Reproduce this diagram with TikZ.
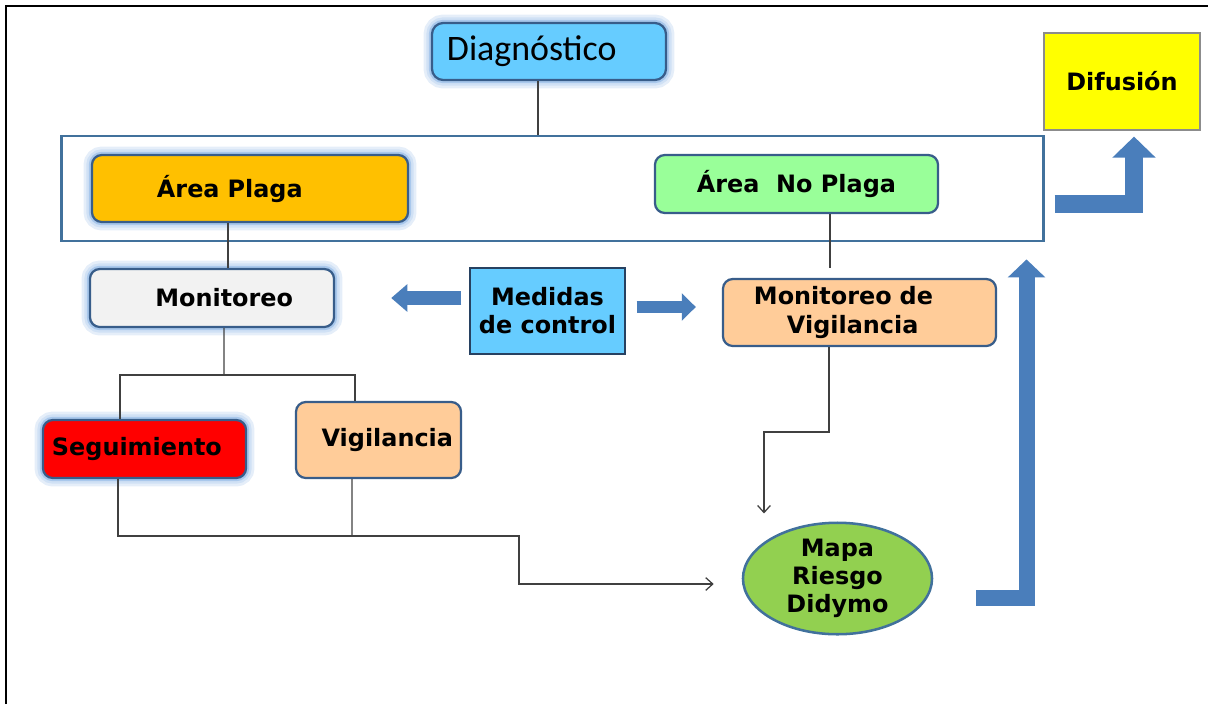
\documentclass[tikz,border=0pt]{standalone}
\usepackage{fontspec}
\newfontfamily\dejavu{DejaVu Sans}
\newfontfamily\cali{Carlito}
\newcommand{\negr}{\dejavu\bfseries\fontsize{17}{20}\selectfont}
\usetikzlibrary{arrows.meta,positioning,calc,shapes.geometric}
\definecolor{borde}{HTML}{385D8A}
\definecolor{borde2}{HTML}{41719C}
\definecolor{brilloc}{HTML}{A9C8EC}
\definecolor{celeste}{HTML}{66CCFF}
\definecolor{naranja}{HTML}{FFC000}
\definecolor{verdec}{HTML}{99FF99}
\definecolor{grisc}{HTML}{F2F2F2}
\definecolor{durazno}{HTML}{FFCC99}
\definecolor{rojo}{HTML}{FF0000}
\definecolor{verdem}{HTML}{92D050}
\definecolor{amarillo}{HTML}{FFFF00}
\definecolor{bloquec}{HTML}{4A7EBB}
\tikzset{
  caja/.style={draw=borde,line width=1.6pt,rounded corners=7pt,inner sep=0pt,font=\negr},
  brillo/.style={preaction={draw=brilloc!30,line width=12pt},preaction={draw=brilloc!55,line width=8pt},
                 preaction={draw=brilloc,line width=4.5pt}},
  rectb/.style={draw=borde!70!black,line width=0.9pt,inner sep=0pt,font=\negr},
  linea/.style={draw=black!75,line width=0.9pt},
  flecha/.style={linea,-{Straight Barb[length=5pt,width=9pt]}},
  bloque/.style={draw=bloquec},
}
\begin{document}
\begin{tikzpicture}[x=0.025cm,y=-0.025cm]
  \useasboundingbox (0,0) rectangle (1208,704);
  % marco
  \draw[line width=1.6pt] (6,704) -- (6,6) -- (1208,6);

  % cajas
  \node[caja,brillo,fill=celeste,rounded corners=8pt,minimum width=5.85cm,minimum height=1.425cm,
        text width=5.1cm,align=left,font=\cali\fontsize{25.5}{30}\selectfont] (diag) at (549,51.5) {Diagnóstico};
  \node[draw=borde2,line width=2pt,minimum width=24.525cm,minimum height=2.625cm] (zona) at (552.5,188.5) {};
  \node[caja,brillo,fill=naranja,minimum width=7.9cm,minimum height=1.675cm,
        text width=4.65cm,align=left] (areaP) at (250,188.5) {Área Plaga};
  \node[caja,fill=verdec,minimum width=7.075cm,minimum height=1.45cm,align=center] (areaN) at (796.5,184) {Área\ \ No Plaga};
  \node[caja,brillo,fill=grisc,minimum width=6.1cm,minimum height=1.45cm,
        text width=4.05cm,align=right] (mon) at (212,298) {Monitoreo};
  \node[rectb,fill=celeste,minimum width=3.875cm,minimum height=2.15cm,align=center] (med) at (547.5,311) {Medidas\\de control};
  \node[caja,fill=durazno,minimum width=6.825cm,minimum height=1.675cm,
        text width=5.275cm,align=left] (monV) at (859.5,312.5) {Monitoreo de\\\hspace*{0.825cm}Vigilancia};
  \node[caja,brillo,fill=rojo,minimum width=5.075cm,minimum height=1.45cm,
        text width=4.625cm,align=left] (seg) at (144.5,449) {Seguimiento};
  \node[caja,fill=durazno,minimum width=4.125cm,minimum height=1.9cm,
        text width=3.725cm,align=right] (vig) at (378.5,440) {Vigilancia};
  \node[ellipse,draw=borde2,line width=1.8pt,fill=verdem,minimum width=4.725cm,minimum height=2.675cm,
        inner sep=0pt,align=center,font=\negr] (mapa) at (837.5,578.5) {Mapa\\Riesgo\\Didymo};
  \node[draw=black!45,line width=0.8pt,fill=amarillo,minimum width=3.9cm,minimum height=2.425cm,font=\negr] (dif) at (1122,81.5) {Difusión};

  % conectores
  \draw[linea] ([xshift=-0.275cm]diag.south) -- ([xshift=-0.275cm]diag.south |- zona.north);
  \draw[linea] ([xshift=-0.55cm]areaP.south) -- ([xshift=-0.55cm]areaP.south |- mon.north);
  \draw[linea,shorten >=7pt] ([xshift=0.8375cm]areaN.south) -- ([xshift=0.8375cm]areaN.south |- monV.north);
  \coordinate (rama) at (224,375);
  \draw[linea] ([xshift=0.3cm]mon.south) -- (rama);
  \draw[linea] ([xshift=-0.6125cm]seg.north) |- (rama) -| ([xshift=-0.5875cm]vig.north);
  \coordinate (junta) at (352,536);
  \draw[linea] ([xshift=-0.6625cm]seg.south) |- (junta);
  \draw[linea] ([xshift=-0.6625cm]vig.south) -- (junta);
  \coordinate (quiebre) at (519,584);
  \draw[flecha,shorten >=0.7cm] (junta) -| (quiebre) -- (quiebre -| mapa.west);
  \coordinate (codo) at (764,432);
  \draw[flecha,shorten >=0.2cm] ([xshift=-0.7625cm]monV.south) |- (codo) -- (codo |- mapa.north);

  % flechas de bloque
  \draw[bloque,line width=9.5pt,-{Triangle[width=19pt,length=11.5pt]}]
    ([xshift=-0.2cm]med.west |- mon.east) -- ([xshift=1.4cm]mon.east);
  \draw[bloque,line width=9pt,-{Triangle[width=19pt,length=10pt]}]
    ([shift={(0.275cm,0.1cm)}]med.east) -- ([shift={(-0.65cm,0.1cm)}]med.east -| monV.west);
  \draw[bloque,line width=12.8pt,-{Triangle[width=30pt,length=15pt]}]
    ([shift={(0.25cm,-0.3875cm)}]zona.east) -| ([shift={(0.3cm,-0.15cm)}]dif.south);
  \draw[bloque,line width=11.4pt,-{Triangle[width=26pt,length=12.8pt]}]
    ([shift={(1.075cm,-0.4875cm)}]mapa.east) -| ([shift={(-0.45cm,-0.425cm)}]zona.south east);
\end{tikzpicture}
\end{document}
